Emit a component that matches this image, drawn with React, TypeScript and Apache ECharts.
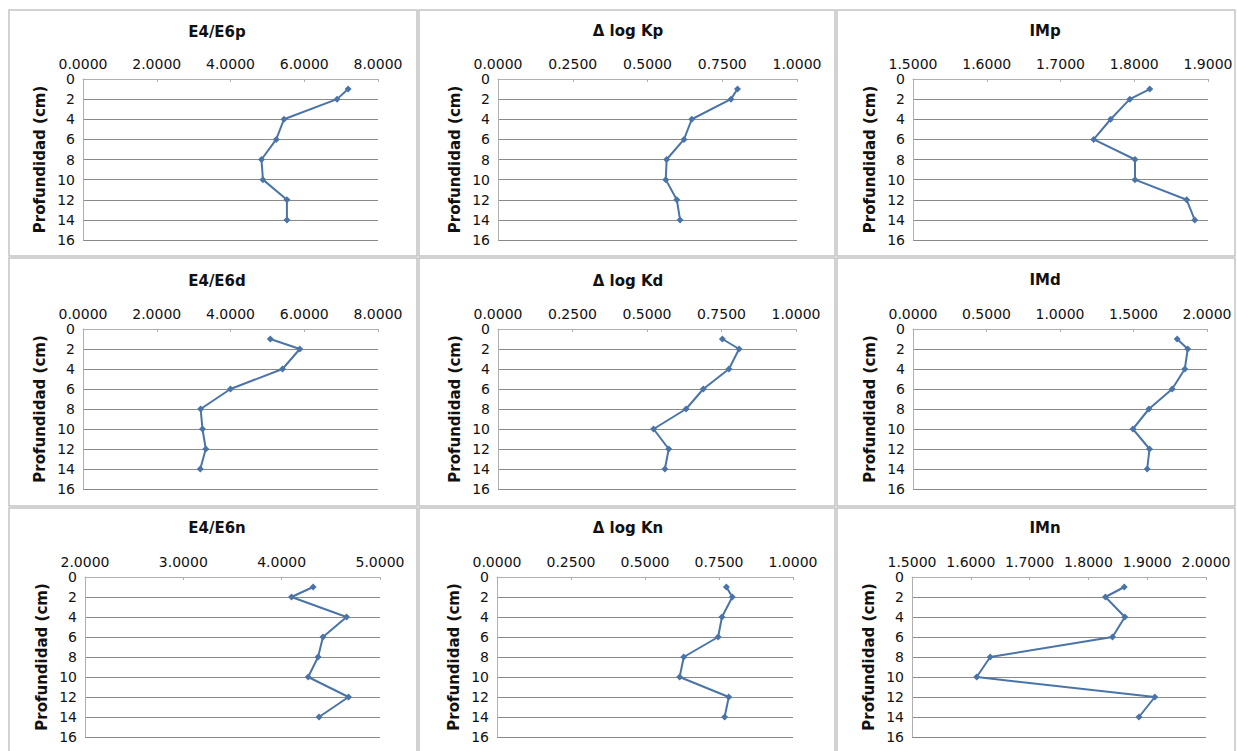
import React, { useEffect, useRef } from "react";
import * as echarts from "echarts";

const depths = [1, 2, 4, 6, 8, 10, 12, 14];
const depthTicks = [0, 2, 4, 6, 8, 10, 12, 14, 16];

const titles = ["E4/E6p", "Δ log Kp", "IMp", "E4/E6d", "Δ log Kd", "IMd", "E4/E6n", "Δ log Kn", "IMn"];

const e4e6p = [7.19, 6.89, 5.45, 5.24, 4.84, 4.88, 5.53, 5.53];
const dlogKp = [0.801, 0.779, 0.648, 0.622, 0.564, 0.561, 0.598, 0.609];
const imp = [1.821, 1.794, 1.768, 1.745, 1.801, 1.801, 1.871, 1.882];
const e4e6d = [5.08, 5.88, 5.41, 4.0, 3.19, 3.24, 3.33, 3.18];
const dlogKd = [0.753, 0.809, 0.775, 0.689, 0.631, 0.522, 0.573, 0.56];
const imd = [1.797, 1.869, 1.849, 1.763, 1.605, 1.496, 1.609, 1.593];
const e4e6n = [4.32, 4.1, 4.66, 4.42, 4.37, 4.27, 4.68, 4.38];
const dlogKn = [0.775, 0.795, 0.76, 0.747, 0.631, 0.617, 0.783, 0.769];
const imn = [1.861, 1.829, 1.862, 1.841, 1.633, 1.61, 1.913, 1.886];

const seriesValues = [e4e6p, dlogKp, imp, e4e6d, dlogKd, imd, e4e6n, dlogKn, imn];

// x-axis ranges: [min, max, interval]
const xRanges = [
  [0, 8, 2],
  [0, 1, 0.25],
  [1.5, 1.9, 0.1],
  [0, 8, 2],
  [0, 1, 0.25],
  [0, 2, 0.5],
  [2, 5, 1],
  [0, 1, 0.25],
  [1.5, 2.0, 0.1],
];

// layout (page pixels)
const plotRects = [
  [83, 79, 295, 161],
  [498, 79, 299, 161],
  [913, 79, 295, 161],
  [83, 329, 295, 160],
  [498, 329, 298, 160],
  [913, 329, 294, 160],
  [85, 577, 295, 160],
  [497, 577, 296, 160],
  [912, 577, 294, 160],
];
const titlePos = [
  [217, 32], [628, 31], [1045, 31],
  [217, 281], [628, 281], [1045, 280],
  [217, 528], [628, 528], [1045, 528],
];
const colEdges = [8, 418, 836, 1236];
const rowEdges = [9, 257, 507, 760];

const LINE = "#4a74a8";
const FONT = "DejaVu Sans";

export default function App() {
  const ref = useRef<HTMLDivElement>(null);
  useEffect(() => {
    document.body.style.margin = "0";
    const chart = echarts.init(ref.current!, null, { renderer: "svg" });
    const grid: any[] = [];
    const xAxis: any[] = [];
    const yAxis: any[] = [];
    const series: any[] = [];
    const graphic: any[] = [];

    for (let r = 0; r < 3; r++) {
      for (let c = 0; c < 3; c++) {
        graphic.push({
          type: "rect",
          shape: {
            x: colEdges[c] + 1,
            y: rowEdges[r] + 1,
            width: colEdges[c + 1] - colEdges[c] - 2,
            height: rowEdges[r + 1] - rowEdges[r] - 2,
          },
          style: { fill: "none", stroke: "#c4c4c4", lineWidth: 1.5 },
          silent: true,
        });
      }
    }

    for (let i = 0; i < 9; i++) {
      const [l, t, w, h] = plotRects[i];
      grid.push({ left: l, top: t, width: w, height: h, containLabel: false, show: true, backgroundColor: "#fff", borderWidth: 0 });
      const [mn, mx, iv] = xRanges[i];
      xAxis.push({
        type: "value",
        gridIndex: i,
        position: "top",
        min: mn,
        max: mx,
        interval: iv,
        axisLine: { show: true, lineStyle: { color: "#b0b0b0", width: 1 } },
        axisTick: { show: true, inside: true, length: 3, lineStyle: { color: "#b0b0b0" } },
        splitLine: { show: false },
        axisLabel: {
          formatter: (v: number) => v.toFixed(4),
          fontFamily: FONT,
          fontSize: 14,
          color: "#111",
          margin: 8,
        },
      });
      yAxis.push({
        type: "value",
        gridIndex: i,
        inverse: true,
        min: depthTicks[0],
        max: depthTicks[depthTicks.length - 1],
        interval: 2,
        name: "Profundidad (cm)",
        nameLocation: "middle",
        nameGap: 36,
        nameTextStyle: { fontFamily: FONT, fontWeight: "bold", fontSize: 15, color: "#111" },
        axisLine: { show: true, lineStyle: { color: "#b0b0b0", width: 1 } },
        axisTick: { show: false },
        splitLine: { show: true, lineStyle: { color: "#8a8a8a", width: 1 } },
        axisLabel: { fontFamily: FONT, fontSize: 14, color: "#111", margin: 8 },
      });
      series.push({
        type: "line",
        xAxisIndex: i,
        yAxisIndex: i,
        data: depths.map((d, k) => [seriesValues[i][k], d]),
        symbol: "diamond",
        symbolSize: 7,
        lineStyle: { color: LINE, width: 2 },
        itemStyle: { color: LINE },
      });
      graphic.push({
        type: "text",
        x: titlePos[i][0],
        y: titlePos[i][1],
        style: {
          text: titles[i],
          align: "center",
          verticalAlign: "middle",
          font: `bold 15px "${FONT}"`,
          fill: "#111",
        },
        silent: true,
      });
    }

    chart.setOption({
      animation: false,
      backgroundColor: "#fff",
      grid,
      xAxis,
      yAxis,
      series,
      graphic,
    });
    return () => chart.dispose();
  }, []);
  return <div ref={ref} style={{ width: 1237, height: 751 }} />;
}
